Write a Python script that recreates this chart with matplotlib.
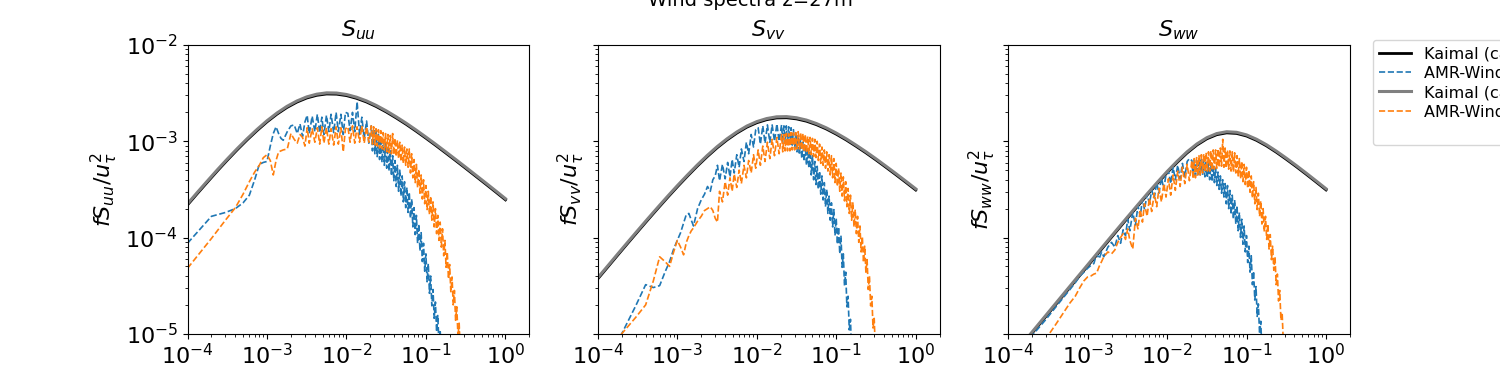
import numpy as np
import matplotlib
matplotlib.use("Agg")
import matplotlib.pyplot as plt
from matplotlib.lines import Line2D

# ---------------- data ----------------
# frequency grid of the AMR-Wind spectra [Hz]
freq = [1e-4, 2e-4, 3e-4, 4e-4, 5e-4, 6e-4, 7e-4, 8e-4, 9e-4, 1.0e-3,
        1.1e-3, 1.2e-3, 1.3e-3, 1.4e-3, 1.5e-3, 1.6e-3, 1.8e-3, 2.0e-3, 2.2e-3, 2.4e-3,
        2.6e-3, 2.8e-3, 3.0e-3,
        3.2e-3, 3.4e-3, 3.7e-3, 4.0e-3, 4.3e-3, 4.6e-3, 4.9e-3, 5.2e-3, 5.6e-3, 6.0e-3,
        6.4e-3, 6.9e-3, 7.4e-3, 7.9e-3, 8.5e-3, 9.1e-3, 9.7e-3,
        1.04e-2, 1.11e-2, 1.19e-2, 1.27e-2, 1.36e-2, 1.46e-2, 1.56e-2, 1.67e-2, 1.79e-2, 1.91e-2,
        2.050e-2, 2.122e-2, 2.196e-2, 2.273e-2, 2.352e-2, 2.435e-2, 2.520e-2, 2.608e-2, 2.699e-2, 2.794e-2,
        2.892e-2, 2.993e-2, 3.098e-2, 3.206e-2, 3.318e-2, 3.434e-2, 3.555e-2, 3.679e-2, 3.808e-2, 3.941e-2,
        4.079e-2, 4.222e-2, 4.370e-2, 4.523e-2, 4.681e-2, 4.845e-2, 5.014e-2, 5.190e-2, 5.371e-2, 5.559e-2,
        5.754e-2, 5.955e-2, 6.164e-2, 6.379e-2, 6.603e-2, 6.834e-2, 7.073e-2, 7.320e-2, 7.577e-2, 7.842e-2,
        8.116e-2, 8.400e-2, 8.694e-2, 8.999e-2, 9.314e-2, 9.640e-2, 9.977e-2,
        0.1033, 0.1069, 0.1106, 0.1145, 0.1185, 0.1226, 0.1269, 0.1314, 0.1360, 0.1407,
        0.1457, 0.1508, 0.1560, 0.1615, 0.1671, 0.1730, 0.1791, 0.1853, 0.1918, 0.1985,
        0.2055, 0.2127, 0.2201, 0.2278, 0.2358, 0.2441, 0.2526, 0.2614, 0.2706, 0.2801,
        0.2899, 0.3000, 0.3105, 0.3214]

# log10 of f*S/u_tau^2, AMR-Wind case 1 (blue) and case 2 (orange)
log_suu_1 = [-4.06, -3.78, -3.74, -3.70, -3.64, -3.56, -3.40, -3.24, -3.22, -3.21,
             -3.05, -2.92, -2.85, -2.92, -2.97, -2.99, -2.90, -2.84, -2.83, -2.92,
             -2.82, -2.95, -2.80,
             -2.73, -2.92, -2.74, -2.90, -2.72, -2.91, -2.75, -2.93, -2.73, -2.90,
             -2.72, -2.91, -2.70, -2.90, -2.72, -2.93, -2.70,
             -2.71, -2.89, -2.70, -2.90, -2.59, -2.93, -2.75, -2.97, -2.79, -3.02,
             -2.84, -3.10, -2.87, -3.13, -2.90, -3.16, -2.93, -3.19, -2.96, -3.22,
             -2.99, -3.25, -3.02, -3.28, -3.05, -3.31, -3.10, -3.36, -3.15, -3.41,
             -3.20, -3.47, -3.25, -3.52, -3.30, -3.57, -3.36, -3.63, -3.42, -3.69,
             -3.48, -3.74, -3.53, -3.80, -3.60, -3.89, -3.69, -3.97, -3.77, -4.06,
             -3.86, -4.14, -3.95, -4.25, -4.06, -4.35, -4.17,
             -4.46, -4.27, -4.58, -4.40, -4.71, -4.54, -4.84, -4.67, -4.98, -4.81,
             -5.12, -4.96, -5.27, -5.11, -5.42]
log_suu_2 = [-4.32, -4.01, -3.82, -3.69, -3.55, -3.42, -3.32, -3.25, -3.17, -3.14,
             -3.20, -3.35, -3.20, -3.11, -3.10, -3.09, -3.08, -2.92, -2.98, -3.02,
             -2.93, -2.96, -3.05,
             -2.86, -3.02, -2.87, -3.01, -2.86, -3.03, -2.85, -3.02, -2.86, -3.03,
             -2.87, -3.04, -2.85, -3.03, -2.86, -3.11, -2.87,
             -2.85, -3.01, -2.84, -3.02, -2.85, -3.01, -2.84, -3.02, -2.85, -3.01,
             -2.84, -3.03, -2.85, -3.04, -2.87, -3.05, -2.88, -3.07, -2.89, -3.08,
             -2.91, -3.09, -2.92, -3.11, -2.93, -3.12, -2.94, -3.13, -2.92, -3.14,
             -2.97, -3.16, -2.99, -3.18, -3.01, -3.21, -3.04, -3.23, -3.06, -3.25,
             -3.08, -3.27, -3.08, -3.33, -3.13, -3.38, -3.19, -3.43, -3.24, -3.48,
             -3.29, -3.54, -3.35, -3.60, -3.40, -3.65, -3.46,
             -3.71, -3.52, -3.76, -3.57, -3.82, -3.63, -3.89, -3.70, -3.96, -3.77,
             -4.03, -3.84, -4.10, -3.91, -4.19, -4.03, -4.31, -4.15, -4.43, -4.28,
             -4.57, -4.41, -4.70, -4.55, -4.86, -4.72, -5.03, -4.89, -5.21, -5.08,
             -5.40]
log_svv_1 = [-5.50, -5.00, -4.71, -4.49, -4.52, -4.50, -4.36, -4.25, -4.12, -4.03,
             -3.95, -3.85, -3.76, -3.75, -3.82, -3.88, -3.70, -3.61, -3.55, -3.47,
             -3.52, -3.40, -3.36,
             -3.25, -3.41, -3.24, -3.39, -3.22, -3.37, -3.19, -3.33, -3.14, -3.27,
             -3.08, -3.21, -3.01, -3.13, -2.93, -3.06, -2.88,
             -2.86, -3.03, -2.84, -3.02, -2.83, -3.01, -2.83, -3.00, -2.82, -3.00,
             -2.83, -3.01, -2.84, -3.02, -2.84, -3.03, -2.85, -3.03, -2.86, -3.04,
             -2.88, -3.07, -2.91, -3.11, -2.95, -3.14, -2.98, -3.18, -3.01, -3.21,
             -3.05, -3.25, -3.08, -3.28, -3.10, -3.35, -3.15, -3.40, -3.21, -3.45,
             -3.26, -3.50, -3.31, -3.55, -3.36, -3.61, -3.43, -3.68, -3.50, -3.75,
             -3.57, -3.82, -3.64, -3.89, -3.71, -3.98, -3.80,
             -4.07, -3.89, -4.17, -3.98, -4.31, -4.17, -4.50, -4.36, -4.72, -4.61,
             -4.96, -4.85, -5.21, -5.10, -5.47]
log_svv_2 = [-5.40, -5.00, -4.83, -4.70, -4.45, -4.20, -4.25, -4.30, -4.15, -4.03,
             -4.10, -4.18, -4.05, -3.98, -3.93, -3.90, -3.83, -3.78, -3.72, -3.70,
             -3.68, -3.72, -3.80,
             -3.84, -3.52, -3.63, -3.42, -3.56, -3.38, -3.52, -3.34, -3.48, -3.30,
             -3.44, -3.25, -3.38, -3.20, -3.33, -3.14, -3.28,
             -3.09, -3.25, -3.05, -3.21, -3.01, -3.18, -2.98, -3.15, -2.96, -3.13,
             -2.93, -3.11, -2.93, -3.10, -2.92, -3.10, -2.92, -3.10, -2.91, -3.09,
             -2.91, -3.09, -2.91, -3.08, -2.90, -3.08, -2.91, -3.09, -2.92, -3.11,
             -2.93, -3.12, -2.95, -3.13, -2.96, -3.14, -2.97, -3.16, -2.98, -3.17,
             -3.00, -3.20, -3.03, -3.23, -3.06, -3.25, -3.09, -3.28, -3.11, -3.31,
             -3.14, -3.35, -3.15, -3.38, -3.18, -3.43, -3.23,
             -3.47, -3.28, -3.52, -3.33, -3.57, -3.37, -3.62, -3.42, -3.68, -3.49,
             -3.75, -3.56, -3.82, -3.64, -3.89, -3.71, -3.96, -3.78, -4.05, -3.88,
             -4.15, -3.99, -4.26, -4.09, -4.36, -4.23, -4.54, -4.40, -4.71, -4.61,
             -4.94, -4.84, -5.19]
log_sww_1 = [-5.33, -5.02, -4.85, -4.72, -4.62, -4.54, -4.47, -4.40, -4.36, -4.32,
             -4.29, -4.27, -4.17, -4.22, -4.15, -4.20, -4.10, -4.05, -4.10, -3.98,
             -4.06, -3.92, -3.98,
             -3.81, -3.93, -3.74, -3.87, -3.67, -3.78, -3.60, -3.71, -3.55, -3.65,
             -3.51, -3.59, -3.43, -3.54, -3.38, -3.50, -3.34,
             -3.31, -3.44, -3.27, -3.40, -3.25, -3.39, -3.23, -3.37, -3.21, -3.18,
             -3.20, -3.36, -3.20, -3.36, -3.20, -3.36, -3.19, -3.35, -3.19, -3.35,
             -3.20, -3.37, -3.22, -3.38, -3.23, -3.40, -3.25, -3.42, -3.26, -3.43,
             -3.28, -3.46, -3.32, -3.50, -3.36, -3.54, -3.40, -3.58, -3.44, -3.65,
             -3.46, -3.70, -3.51, -3.76, -3.56, -3.81, -3.61, -3.86, -3.67, -3.93,
             -3.74, -4.00, -3.81, -4.07, -3.88, -4.15, -3.98,
             -4.26, -4.09, -4.36, -4.19, -4.49, -4.35, -4.65, -4.51, -4.82, -4.69,
             -5.00, -4.87, -5.19, -5.07, -5.39]
log_sww_2 = [-5.60, -5.25, -5.05, -4.90, -4.78, -4.68, -4.61, -4.52, -4.45, -4.41,
             -4.40, -4.38, -4.37, -4.30, -4.25, -4.20, -4.15, -4.17, -4.13, -4.05,
             -4.00, -3.96, -4.02,
             -3.91, -4.03, -4.12, -3.80, -3.91, -3.71, -3.84, -3.65, -3.78, -3.59,
             -3.73, -3.54, -3.68, -3.49, -3.63, -3.44, -3.58,
             -3.39, -3.56, -3.35, -3.51, -3.31, -3.47, -3.27, -3.44, -3.24, -3.41,
             -3.20, -3.39, -3.18, -3.38, -3.17, -3.36, -3.15, -3.35, -3.14, -3.33,
             -3.13, -3.32, -3.12, -3.31, -3.11, -3.31, -3.10, -3.30, -3.09, -3.29,
             -3.09, -3.28, -3.08, -3.27, -3.07, -3.26, -2.98, -3.27, -3.07, -3.28,
             -3.09, -3.29, -3.10, -3.31, -3.11, -3.32, -3.12, -3.33, -3.15, -3.36,
             -3.18, -3.39, -3.21, -3.42, -3.24, -3.45, -3.27,
             -3.49, -3.30, -3.53, -3.36, -3.59, -3.42, -3.65, -3.48, -3.71, -3.54,
             -3.78, -3.62, -3.86, -3.70, -3.94, -3.78, -4.02, -3.86, -4.12, -3.97,
             -4.23, -4.09, -4.34, -4.20, -4.49, -4.38, -4.66, -4.55, -4.86, -4.78,
             -5.09, -5.01, -5.32]

# Kaimal model spectra (log10), case 1 (black) and case 2 (gray)
kaimal_freq = [1.000e-4, 1.334e-4, 1.778e-4, 2.371e-4, 3.162e-4, 4.217e-4, 5.623e-4, 7.499e-4,
               1.000e-3, 1.334e-3, 1.778e-3, 2.371e-3, 3.162e-3, 4.217e-3, 5.623e-3, 7.499e-3,
               1.000e-2, 1.334e-2, 1.778e-2, 2.371e-2, 3.162e-2, 4.217e-2, 5.623e-2, 7.499e-2,
               1.000e-1, 1.334e-1, 1.778e-1, 2.371e-1, 3.162e-1, 4.217e-1, 5.623e-1, 7.499e-1,
               1.0]
log_kaimal_uu_2 = [-3.650, -3.530, -3.413, -3.297, -3.185, -3.077, -2.974, -2.877,
                   -2.787, -2.707, -2.638, -2.582, -2.539, -2.511, -2.497, -2.499,
                   -2.514, -2.542, -2.580, -2.628, -2.684, -2.746, -2.812, -2.883,
                   -2.957, -3.033, -3.111, -3.190, -3.270, -3.351, -3.432, -3.514, -3.597]
log_kaimal_vv_2 = [-4.418, -4.295, -4.172, -4.050, -3.929, -3.809, -3.691, -3.575,
                   -3.462, -3.353, -3.248, -3.149, -3.057, -2.975, -2.903, -2.842,
                   -2.796, -2.764, -2.746, -2.744, -2.756, -2.780, -2.816, -2.861,
                   -2.915, -2.975, -3.041, -3.110, -3.183, -3.259, -3.336, -3.415, -3.495]
log_kaimal_ww_2 = [-5.284, -5.159, -5.034, -4.909, -4.784, -4.659, -4.534, -4.409,
                   -4.285, -4.160, -4.036, -3.912, -3.789, -3.667, -3.546, -3.429,
                   -3.315, -3.209, -3.111, -3.028, -2.963, -2.920, -2.901, -2.907,
                   -2.934, -2.979, -3.036, -3.103, -3.176, -3.252, -3.331, -3.412, -3.494]
log_kaimal_uu_1 = [-3.662, -3.542, -3.425, -3.309, -3.197, -3.089, -2.986, -2.889,
                   -2.799, -2.719, -2.650, -2.594, -2.551, -2.523, -2.509, -2.511,
                   -2.526, -2.554, -2.592, -2.640, -2.696, -2.758, -2.824, -2.895,
                   -2.969, -3.045, -3.123, -3.202, -3.282, -3.363, -3.444, -3.526, -3.609]
log_kaimal_vv_1 = [-4.430, -4.307, -4.184, -4.062, -3.941, -3.821, -3.703, -3.587,
                   -3.474, -3.365, -3.260, -3.161, -3.069, -2.987, -2.915, -2.854,
                   -2.808, -2.776, -2.758, -2.756, -2.768, -2.792, -2.828, -2.873,
                   -2.927, -2.987, -3.053, -3.122, -3.195, -3.271, -3.348, -3.427, -3.507]
log_kaimal_ww_1 = [-5.296, -5.171, -5.046, -4.921, -4.796, -4.671, -4.546, -4.421,
                   -4.297, -4.172, -4.048, -3.924, -3.801, -3.679, -3.558, -3.441,
                   -3.327, -3.221, -3.123, -3.040, -2.975, -2.932, -2.913, -2.919,
                   -2.946, -2.991, -3.048, -3.115, -3.188, -3.264, -3.343, -3.424, -3.506]

titles = [r"$S_{uu}$", r"$S_{vv}$", r"$S_{ww}$"]
ylabels = [r"$fS_{uu}/u_\tau^2$", r"$fS_{vv}/u_\tau^2$", r"$fS_{ww}/u_\tau^2$"]
labels = ["Kaimal (case 1)", "AMR-Wind (case 1)", "Kaimal (case 2)", "AMR-Wind (case 2)"]
suptitle = "Wind spectra z=27m"

kaimal_1 = [log_kaimal_uu_1, log_kaimal_vv_1, log_kaimal_ww_1]
kaimal_2 = [log_kaimal_uu_2, log_kaimal_vv_2, log_kaimal_ww_2]
amr_1 = [log_suu_1, log_svv_1, log_sww_1]
amr_2 = [log_suu_2, log_svv_2, log_sww_2]

# ---------------- figure ----------------
fig, axes = plt.subplots(1, 3, figsize=(15, 3.75), dpi=100, sharey=True)
kf = np.array(kaimal_freq)
fr = np.array(freq)
for i, ax in enumerate(axes):
    a1 = np.array(amr_1[i]); a2 = np.array(amr_2[i])
    ax.loglog(kf, 10 ** np.array(kaimal_1[i]), color="black", lw=2, label=labels[0])
    ax.loglog(fr[:len(a1)], 10 ** a1, color="tab:blue", ls="--", lw=1.2, label=labels[1])
    ax.loglog(kf, 10 ** np.array(kaimal_2[i]), color="gray", lw=2.2, label=labels[2])
    ax.loglog(fr[:len(a2)], 10 ** a2, color="tab:orange", ls="--", lw=1.2, label=labels[3])
    ax.set_xlim(1e-4, 2)
    ax.set_ylim(1e-5, 1e-2)
    ax.set_title(titles[i], fontsize=16)
    ax.set_ylabel(ylabels[i], fontsize=16)
    ax.tick_params(axis="both", which="major", labelsize=16)

handles, hlabels = axes[2].get_legend_handles_labels()
# the reference legend box holds one more (empty) row below the four entries
handles.append(Line2D([], [], color="none"))
hlabels.append(" ")
axes[2].legend(handles, hlabels, loc="upper left", bbox_to_anchor=(1.043, 1.045),
               fontsize=11.5, labelspacing=0.27)
fig.suptitle(suptitle, fontsize=14, y=1.025)
fig.savefig("out.png", dpi=100)
